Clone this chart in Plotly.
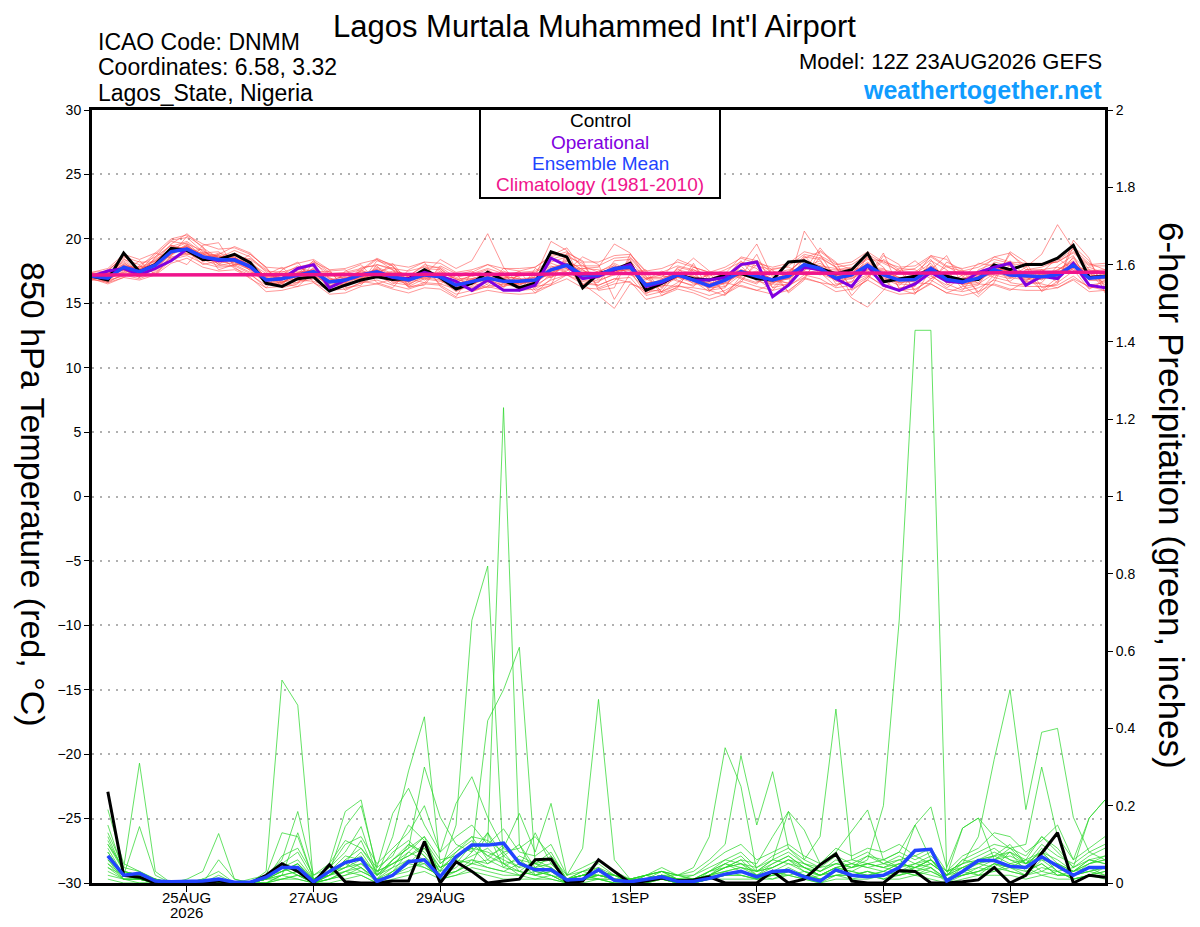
import plotly.graph_objects as go
import pandas as pd

# GEFS 12Z 23AUG2026 run, 6-hourly
times = pd.date_range("2026-08-23 12:00", periods=65, freq="6h")
precip_times = times[1:]
clim_times = times[::4]

tick_dates = ["2026-08-25", "2026-08-27", "2026-08-29", "2026-09-01",
              "2026-09-03", "2026-09-05", "2026-09-07"]
tick_text = ["25AUG", "27AUG", "29AUG", "1SEP", "3SEP", "5SEP", "7SEP"]
year_text = "2026"

# 850 hPa temperature (C)
control_temp = [17.1, 16.8, 18.9, 17.45, 18.0, 19.26, 19.1, 18.4, 18.4, 18.8, 18.15, 16.55, 16.3,
                16.9, 17.05, 15.95, 16.4, 16.8, 17.05, 16.85, 16.9, 17.6, 17.0, 16.1, 16.55, 17.4,
                16.8, 16.2, 16.55, 19.0, 18.6, 16.2, 17.3, 17.6, 18.1, 16.0, 16.55, 17.2, 16.9,
                16.8, 17.2, 17.3, 16.9, 16.8, 18.2, 18.3, 17.7, 17.27, 17.6, 18.87, 16.67, 16.9,
                17.1, 17.64, 17.1, 16.8, 16.85, 17.97, 17.6, 18.0, 18.0, 18.5, 19.5, 17.0, 17.1]
operational_temp = [17.1, 17.5, 17.7, 17.2, 17.7, 18.3, 19.2, 18.6, 18.3, 18.4, 17.8, 16.8, 16.9,
                    17.7, 18.0, 16.2, 16.8, 17.2, 17.4, 17.0, 16.9, 17.4, 17.1, 16.7, 16.0, 16.8,
                    16.0, 16.0, 16.4, 18.5, 17.9, 16.9, 17.1, 17.6, 18.0, 16.3, 16.6, 17.2, 16.8,
                    16.8, 17.0, 18.0, 18.2, 15.5, 16.4, 17.8, 17.6, 16.9, 16.3, 17.9, 16.4, 16.0,
                    16.5, 17.4, 16.7, 16.6, 17.4, 17.8, 18.1, 16.4, 17.1, 16.9, 18.1, 16.4, 16.2]
mean_temp = [17.1, 16.95, 17.8, 17.45, 17.95, 19.0, 19.2, 18.6, 18.4, 18.35, 17.85, 16.8, 16.9,
             17.2, 17.45, 16.65, 16.8, 17.2, 17.45, 17.05, 16.8, 17.2, 17.05, 16.4, 16.65, 16.95,
             16.7, 16.7, 16.8, 17.6, 17.95, 17.2, 17.2, 17.7, 17.8, 16.4, 16.7, 17.2, 16.8,
             16.35, 16.8, 17.45, 17.1, 16.8, 17.1, 18.0, 17.7, 16.95, 17.2, 17.95, 17.2, 16.8,
             16.85, 17.7, 16.85, 16.65, 16.95, 17.6, 17.2, 17.1, 17.05, 17.2, 17.95, 16.95, 17.05]
climatology_temp = [17.2, 17.2, 17.2, 17.2, 17.2, 17.2, 17.25, 17.25, 17.3,
                    17.3, 17.3, 17.3, 17.35, 17.35, 17.35, 17.4, 17.4]

t01 = [17.0, 17.3, 18.2, 17.2, 17.9, 19.4, 19.8, 18.9, 18.0, 18.9, 18.2, 17.0, 16.5, 17.6, 17.9, 16.3, 16.5, 17.8, 17.9, 16.6, 16.4, 17.7, 17.6, 16.0, 16.3, 17.4, 16.2, 17.3, 17.4, 18.2, 18.6, 16.8, 16.6, 18.3, 18.4, 15.8, 16.1, 17.8, 17.5, 16.0, 16.2, 18.1, 17.7, 16.2, 16.5, 18.6, 18.4, 16.5, 16.6, 18.7, 17.8, 16.2, 16.3, 18.3, 17.6, 16.1, 16.4, 18.2, 17.9, 16.5, 16.6, 17.9, 18.7, 16.4, 16.6]
t02 = [17.2, 16.8, 17.5, 17.8, 18.3, 18.7, 19.5, 18.2, 18.8, 18.1, 17.6, 17.1, 17.3, 16.9, 17.2, 17.1, 17.2, 16.8, 17.1, 17.5, 17.2, 16.9, 16.7, 16.8, 17.1, 16.6, 17.2, 16.3, 16.4, 17.1, 17.6, 17.7, 17.6, 17.2, 17.4, 16.9, 17.2, 16.7, 16.4, 16.9, 17.3, 17.0, 16.6, 17.3, 17.6, 17.5, 17.2, 17.5, 17.7, 17.4, 16.7, 17.3, 17.4, 17.1, 16.4, 17.2, 17.5, 17.0, 16.7, 17.6, 17.6, 16.6, 17.5, 17.5, 17.6]
t03 = [16.9, 17.1, 18.4, 18.0, 18.6, 19.9, 20.1, 19.0, 18.6, 18.7, 18.4, 17.5, 17.4, 17.8, 18.1, 17.3, 17.4, 17.7, 18.0, 17.7, 17.5, 17.8, 17.8, 17.0, 17.3, 17.7, 17.3, 17.4, 17.5, 18.4, 18.8, 17.9, 17.9, 18.5, 18.6, 17.2, 17.4, 17.9, 17.6, 17.1, 17.6, 18.2, 17.9, 17.6, 17.9, 18.8, 18.5, 17.8, 18.0, 18.8, 18.1, 17.5, 17.7, 18.6, 17.8, 17.5, 17.8, 18.4, 18.1, 17.9, 18.0, 18.2, 18.9, 17.9, 17.9]
t04 = [17.0, 16.7, 17.2, 16.9, 17.4, 18.4, 18.7, 18.1, 17.8, 17.9, 17.3, 16.2, 16.3, 16.6, 16.9, 16.0, 16.1, 16.6, 16.8, 16.4, 16.1, 16.5, 16.4, 15.7, 16.0, 16.3, 16.0, 16.0, 16.1, 16.8, 17.2, 16.5, 16.4, 16.9, 17.0, 15.6, 15.9, 16.4, 16.0, 15.6, 16.0, 16.7, 16.3, 16.0, 16.3, 17.2, 16.9, 16.2, 16.4, 17.1, 16.4, 16.0, 16.1, 16.8, 16.1, 15.9, 16.2, 16.8, 16.4, 16.3, 16.3, 16.4, 17.1, 16.2, 16.3]
t05 = [17.3, 17.2, 17.9, 17.6, 18.4, 19.1, 19.0, 18.4, 18.9, 18.6, 17.5, 16.6, 17.2, 17.9, 17.1, 16.5, 17.3, 17.6, 17.0, 17.4, 17.3, 16.8, 17.5, 16.9, 16.4, 17.3, 17.1, 16.9, 16.2, 17.3, 18.3, 17.6, 16.8, 17.2, 18.3, 16.9, 16.2, 17.6, 17.3, 16.3, 17.1, 17.9, 16.7, 16.5, 17.5, 18.4, 17.3, 16.8, 17.7, 18.5, 16.9, 16.4, 17.3, 18.1, 16.6, 16.9, 17.4, 17.2, 16.9, 17.5, 16.8, 17.6, 18.3, 16.8, 17.4]
t06 = [17.1, 16.9, 17.6, 17.3, 17.7, 18.8, 19.6, 19.1, 18.3, 18.0, 18.1, 17.3, 16.7, 16.6, 17.8, 17.0, 16.4, 16.9, 17.8, 17.3, 16.6, 17.5, 16.9, 16.2, 16.9, 16.8, 16.4, 16.6, 17.2, 17.9, 17.4, 16.9, 17.5, 17.9, 17.3, 16.1, 16.9, 17.4, 16.5, 16.6, 16.5, 17.3, 17.4, 16.9, 16.9, 17.7, 18.1, 17.3, 16.9, 17.6, 17.5, 17.0, 16.6, 17.4, 17.2, 16.4, 16.8, 17.9, 17.5, 16.8, 17.3, 17.0, 17.7, 17.3, 16.9]
t07 = [16.8, 17.4, 18.0, 17.1, 17.8, 19.3, 19.3, 18.7, 18.2, 18.5, 18.0, 16.5, 16.6, 17.4, 17.6, 16.9, 16.7, 17.3, 17.3, 16.9, 17.0, 17.4, 17.3, 16.6, 16.5, 16.9, 16.8, 16.8, 16.6, 17.5, 18.1, 17.4, 17.3, 17.5, 17.6, 16.6, 16.5, 17.1, 17.0, 16.5, 16.9, 17.6, 17.2, 16.6, 17.0, 18.0, 17.6, 17.1, 17.3, 17.9, 17.3, 16.9, 16.8, 17.9, 17.0, 16.6, 17.1, 17.7, 17.3, 16.9, 17.0, 17.4, 18.1, 17.1, 17.2]
t08 = [17.4, 17.5, 18.6, 18.2, 18.2, 19.6, 20.4, 19.3, 18.5, 19.1, 18.6, 17.4, 16.9, 17.1, 18.3, 17.4, 16.9, 17.5, 18.4, 17.6, 17.1, 18.0, 17.7, 16.6, 17.2, 17.6, 16.9, 17.5, 17.8, 18.7, 19.3, 17.7, 17.8, 19.6, 18.9, 17.0, 17.0, 18.4, 17.9, 16.8, 17.3, 18.6, 18.3, 17.3, 17.4, 18.5, 19.0, 18.1, 17.6, 18.4, 18.3, 17.4, 17.1, 18.7, 18.4, 17.2, 17.3, 18.6, 18.9, 17.6, 17.8, 18.3, 19.2, 18.1, 17.6]
t09 = [16.9, 16.6, 17.3, 17.9, 17.6, 18.5, 18.9, 18.3, 18.7, 17.7, 17.2, 16.4, 17.0, 16.8, 16.7, 16.3, 17.0, 16.7, 16.5, 16.9, 16.9, 16.6, 16.5, 16.1, 16.6, 16.2, 16.5, 16.2, 16.3, 16.5, 17.2, 16.7, 16.4, 16.9, 16.6, 15.9, 16.4, 16.3, 16.2, 16.0, 16.6, 16.3, 16.0, 16.5, 16.4, 17.0, 16.6, 16.4, 16.7, 17.2, 16.3, 16.1, 16.6, 16.5, 15.8, 16.3, 16.5, 16.4, 16.0, 16.7, 16.5, 16.2, 16.9, 16.3, 16.0]
t10 = [17.2, 17.0, 17.7, 17.4, 18.1, 18.9, 19.4, 18.5, 18.1, 18.3, 18.3, 17.0, 16.8, 17.3, 17.3, 16.6, 16.6, 17.1, 17.6, 17.0, 16.7, 17.1, 17.2, 16.5, 16.8, 17.1, 16.6, 16.4, 16.9, 17.7, 17.9, 17.3, 17.1, 17.6, 18.0, 16.5, 16.8, 17.2, 16.9, 16.4, 16.7, 17.4, 17.2, 16.9, 17.2, 17.9, 17.8, 16.9, 17.1, 18.1, 17.1, 16.7, 17.0, 17.8, 16.9, 16.8, 16.9, 17.5, 17.3, 17.2, 17.1, 17.3, 17.9, 17.0, 17.2]
t11 = [17.0, 17.6, 18.5, 17.3, 18.5, 19.5, 19.1, 18.0, 18.3, 18.8, 17.8, 16.7, 16.4, 17.7, 17.5, 16.1, 16.9, 17.5, 17.2, 16.5, 17.1, 17.9, 16.8, 15.9, 16.6, 17.5, 16.9, 16.5, 16.9, 18.1, 17.7, 16.4, 17.4, 18.1, 17.5, 15.7, 16.6, 17.7, 16.7, 15.9, 17.0, 18.3, 16.9, 16.0, 17.3, 18.7, 17.4, 16.3, 17.3, 18.6, 16.8, 15.9, 17.4, 18.4, 16.5, 16.0, 17.6, 18.1, 16.6, 16.4, 17.4, 18.5, 17.6, 16.1, 16.8]
t12 = [17.1, 16.9, 17.4, 17.6, 17.5, 18.6, 18.8, 18.8, 18.6, 18.2, 17.7, 17.2, 17.5, 17.0, 17.4, 17.2, 16.9, 16.9, 17.4, 17.8, 17.0, 17.0, 17.4, 16.9, 16.9, 16.8, 16.9, 17.1, 17.3, 17.3, 18.0, 17.9, 17.4, 17.4, 17.7, 17.4, 17.1, 17.0, 16.8, 17.2, 17.4, 17.1, 17.4, 17.5, 17.2, 17.6, 17.9, 17.7, 17.4, 17.6, 17.6, 17.3, 17.2, 17.3, 17.5, 17.3, 17.2, 17.4, 17.6, 17.4, 17.6, 17.1, 17.8, 17.6, 17.4]
t13 = [16.8, 16.7, 17.9, 17.7, 18.0, 19.2, 19.7, 18.6, 18.2, 18.6, 17.9, 16.5, 16.6, 17.1, 17.7, 16.4, 16.3, 17.0, 17.7, 17.2, 16.3, 16.9, 17.3, 16.3, 16.2, 16.9, 16.3, 16.6, 16.7, 17.4, 18.4, 17.1, 16.7, 17.3, 18.2, 16.3, 16.3, 17.0, 17.1, 16.2, 16.3, 17.2, 17.5, 16.7, 16.6, 17.8, 18.3, 16.7, 16.9, 17.8, 17.7, 16.5, 16.4, 17.5, 17.3, 16.5, 16.6, 17.8, 17.4, 16.6, 16.9, 17.5, 18.5, 16.8, 16.7]
t14 = [17.3, 17.1, 18.1, 17.5, 18.3, 19.3, 19.1, 18.9, 18.7, 18.3, 17.9, 17.1, 17.0, 17.5, 17.4, 16.8, 17.1, 17.4, 17.3, 17.2, 17.0, 17.3, 17.0, 16.7, 16.9, 17.2, 17.0, 16.9, 17.0, 17.8, 18.1, 17.5, 17.3, 17.8, 17.9, 16.9, 16.9, 17.4, 17.1, 16.7, 17.0, 17.6, 17.3, 16.9, 17.3, 18.1, 17.9, 17.2, 17.4, 18.2, 17.4, 17.0, 17.1, 17.9, 17.1, 16.9, 17.2, 17.7, 17.5, 17.2, 17.2, 17.6, 18.2, 17.3, 17.3]
t15 = [17.0, 17.2, 17.6, 17.0, 17.7, 18.9, 19.3, 18.4, 17.9, 18.2, 17.6, 16.6, 16.7, 16.9, 17.2, 16.5, 16.5, 17.1, 17.3, 16.8, 16.5, 17.0, 16.8, 16.2, 16.5, 16.9, 16.6, 16.6, 16.6, 17.4, 17.7, 17.0, 17.0, 17.5, 17.6, 16.2, 16.5, 17.0, 16.6, 16.2, 16.6, 17.3, 16.9, 16.6, 16.9, 17.8, 17.5, 16.8, 17.0, 17.8, 17.0, 16.6, 16.7, 17.5, 16.7, 16.5, 16.8, 17.4, 17.0, 16.8, 16.9, 17.1, 17.7, 16.8, 16.9]
t16 = [17.2, 17.3, 17.8, 17.7, 18.1, 19.2, 19.4, 18.8, 18.5, 18.5, 17.9, 16.9, 17.0, 17.3, 17.6, 16.7, 16.9, 17.3, 17.6, 17.1, 16.9, 17.3, 17.1, 16.5, 16.8, 17.1, 16.8, 16.8, 16.9, 17.7, 18.1, 17.3, 17.3, 17.8, 17.8, 16.5, 16.8, 17.3, 16.9, 16.5, 16.9, 17.5, 17.2, 16.9, 17.2, 18.1, 17.8, 17.1, 17.3, 18.1, 17.3, 16.9, 17.0, 17.8, 17.0, 16.8, 17.1, 17.7, 17.3, 17.2, 17.2, 17.3, 18.1, 17.1, 17.2]
t17 = [17.1, 16.8, 17.1, 17.9, 17.3, 18.3, 19.0, 19.2, 18.0, 17.9, 18.5, 17.6, 16.5, 16.3, 17.4, 17.5, 16.2, 16.4, 18.0, 17.6, 16.2, 16.6, 17.7, 16.8, 15.9, 16.3, 17.5, 17.0, 15.8, 16.9, 18.6, 18.1, 16.2, 16.7, 18.5, 17.1, 15.9, 16.6, 17.6, 17.0, 15.8, 16.8, 18.0, 17.2, 15.9, 17.0, 18.6, 17.8, 16.2, 17.0, 18.4, 17.6, 16.0, 16.9, 17.9, 17.1, 15.9, 17.2, 18.3, 17.1, 16.0, 17.0, 18.6, 17.4, 16.1]
t18 = [17.0, 17.2, 18.3, 17.4, 17.6, 18.8, 19.5, 18.6, 18.4, 18.6, 17.7, 16.9, 17.2, 17.0, 17.1, 16.6, 17.0, 17.0, 17.2, 16.7, 16.7, 17.3, 16.9, 16.3, 16.8, 17.0, 16.5, 16.8, 17.0, 17.5, 17.8, 17.3, 17.0, 17.6, 17.7, 16.6, 16.6, 17.1, 16.9, 16.3, 16.7, 17.3, 17.1, 16.7, 16.9, 17.9, 17.5, 16.9, 17.1, 17.9, 17.3, 16.6, 16.8, 17.6, 16.9, 16.6, 16.9, 17.5, 17.2, 17.0, 17.0, 17.2, 17.9, 16.9, 17.0]
t19 = [16.9, 17.4, 17.7, 17.2, 18.2, 19.0, 19.3, 18.5, 18.3, 18.4, 18.0, 16.7, 16.8, 17.4, 17.3, 16.8, 16.7, 17.2, 17.6, 17.0, 16.8, 17.1, 17.2, 16.4, 16.6, 17.1, 16.7, 16.5, 16.8, 17.6, 18.0, 17.1, 17.2, 17.7, 17.8, 16.3, 16.7, 17.2, 16.7, 16.4, 16.8, 17.5, 17.0, 16.8, 17.1, 18.0, 17.7, 17.0, 17.1, 18.0, 17.1, 16.8, 16.9, 17.7, 16.8, 16.6, 17.0, 17.6, 17.2, 17.0, 17.2, 17.1, 18.0, 17.0, 17.1]
t20 = [17.2, 17.1, 18.0, 17.6, 17.9, 19.1, 19.1, 18.7, 18.4, 18.3, 17.8, 16.8, 16.9, 17.2, 17.5, 16.6, 16.8, 17.3, 17.4, 17.2, 16.8, 17.2, 17.0, 16.5, 16.7, 17.0, 16.7, 16.7, 16.8, 17.6, 17.9, 17.2, 17.2, 17.7, 17.8, 16.5, 16.7, 17.2, 16.8, 16.4, 16.8, 17.5, 17.1, 16.8, 17.1, 18.0, 17.7, 17.0, 17.2, 18.0, 17.2, 16.8, 16.9, 17.7, 16.9, 16.7, 17.0, 17.6, 17.2, 17.1, 17.1, 17.2, 18.0, 17.0, 17.1]
t21 = [17.0, 17.5, 18.7, 17.5, 18.8, 19.8, 19.6, 18.3, 18.8, 19.4, 18.9, 17.7, 16.6, 17.3, 18.3, 16.9, 16.6, 17.6, 18.5, 17.9, 16.4, 17.2, 18.4, 17.7, 18.3, 20.4, 17.8, 16.4, 17.1, 19.8, 19.1, 16.5, 15.6, 14.6, 16.5, 16.1, 15.9, 17.4, 18.5, 17.5, 16.3, 17.9, 19.6, 17.0, 16.5, 20.6, 18.8, 16.9, 15.4, 14.7, 16.0, 17.5, 18.3, 17.2, 16.2, 17.0, 18.1, 17.9, 17.0, 17.8, 18.8, 21.1, 19.2, 17.6, 16.4]
t22 = [17.1, 16.6, 17.0, 17.8, 18.9, 18.5, 18.0, 19.5, 19.7, 17.8, 16.9, 16.2, 17.6, 18.2, 16.6, 16.0, 17.5, 18.0, 16.6, 16.2, 17.6, 18.2, 16.3, 15.5, 17.4, 18.0, 17.4, 15.9, 17.7, 17.0, 17.5, 18.6, 18.0, 15.3, 17.3, 17.6, 15.8, 16.2, 18.1, 16.0, 15.6, 17.1, 18.8, 16.2, 17.4, 17.5, 19.3, 17.8, 15.6, 17.0, 18.9, 16.1, 15.7, 17.6, 18.7, 16.4, 15.5, 16.6, 19.0, 18.2, 16.2, 16.5, 19.9, 18.5, 15.8]
t23 = [17.3, 17.0, 17.4, 18.3, 17.2, 18.7, 20.2, 19.4, 17.6, 18.0, 18.8, 17.8, 16.2, 16.5, 18.2, 17.6, 16.0, 16.6, 18.3, 17.9, 16.3, 16.4, 17.9, 17.3, 15.9, 16.5, 17.7, 17.5, 16.0, 16.4, 18.9, 18.3, 16.0, 16.2, 18.8, 17.4, 15.6, 16.3, 17.8, 17.4, 15.7, 16.6, 18.3, 17.6, 15.8, 16.8, 19.1, 18.2, 16.0, 16.8, 18.7, 18.0, 15.8, 16.6, 18.2, 17.6, 15.7, 16.9, 18.8, 17.9, 15.9, 16.7, 19.4, 18.3, 16.2]
t24 = [16.9, 16.5, 17.0, 16.8, 17.2, 18.1, 18.5, 17.8, 17.5, 17.6, 17.0, 15.9, 16.0, 16.3, 16.6, 15.7, 15.8, 16.3, 16.5, 16.1, 15.8, 16.2, 16.1, 15.4, 15.7, 16.0, 15.8, 15.7, 15.8, 16.4, 16.9, 16.2, 16.1, 16.5, 16.7, 15.3, 15.6, 16.1, 15.8, 15.3, 15.7, 16.4, 16.0, 15.7, 16.0, 16.9, 16.6, 15.9, 16.1, 16.8, 16.1, 15.7, 15.8, 16.5, 15.8, 15.6, 15.9, 16.5, 16.1, 16.0, 16.0, 16.2, 16.8, 15.9, 16.0]
t25 = [17.4, 17.7, 18.8, 18.4, 18.9, 20.0, 20.3, 19.6, 19.2, 19.3, 18.8, 17.8, 17.7, 18.1, 18.4, 17.6, 17.7, 18.1, 18.4, 18.0, 17.8, 18.2, 18.1, 17.4, 17.6, 18.0, 17.7, 17.7, 17.8, 18.6, 19.0, 18.2, 18.2, 18.7, 18.8, 17.5, 17.7, 18.2, 17.8, 17.4, 17.8, 18.5, 18.1, 17.8, 18.1, 19.0, 18.7, 18.0, 18.2, 19.0, 18.2, 17.8, 17.9, 18.7, 17.9, 17.7, 18.0, 18.6, 18.2, 18.1, 18.1, 18.2, 19.0, 18.0, 18.1]
t26 = [17.0, 17.3, 17.6, 17.0, 18.6, 19.5, 18.8, 18.9, 19.0, 18.0, 17.4, 17.2, 17.8, 16.7, 17.0, 17.5, 17.6, 16.5, 17.2, 18.1, 16.6, 17.6, 16.5, 17.2, 17.5, 16.4, 16.3, 17.3, 17.2, 17.0, 18.3, 17.6, 16.9, 18.0, 17.2, 16.8, 17.5, 16.8, 16.3, 17.4, 17.4, 16.9, 16.5, 17.7, 17.8, 17.3, 17.6, 17.6, 17.8, 17.5, 16.8, 17.7, 17.6, 16.9, 17.4, 17.5, 16.5, 17.3, 17.9, 16.7, 17.6, 17.8, 17.4, 17.8, 17.3]
members_temp = [t01, t02, t03, t04, t05, t06, t07, t08, t09, t10, t11, t12, t13,
                t14, t15, t16, t17, t18, t19, t20, t21, t22, t23, t24, t25, t26]

# 6-hour precipitation (inches), 18Z 23AUG onward
control_precip = [0.236, 0.02, 0.015, 0, 0, 0, 0, 0.005, 0, 0, 0.02, 0.05, 0.03, 0, 0.047, 0.003,
                  0, 0, 0.005, 0.005, 0.107, 0, 0.055, 0.03, 0, 0.005, 0.01, 0.06, 0.062, 0, 0.005, 0.06,
                  0.03, 0, 0.005, 0.013, 0.006, 0.008, 0.016, 0, 0, 0, 0.03, 0, 0.01, 0.047, 0.075, 0.005,
                  0, 0, 0.032, 0.03, 0, 0, 0.003, 0.008, 0.04, 0, 0.02, 0.077, 0.13, 0, 0.02, 0.015]
mean_precip = [0.07, 0.02, 0.025, 0.005, 0.003, 0.003, 0.005, 0.01, 0.002, 0.002, 0.015, 0.04, 0.04, 0.003, 0.03, 0.053,
               0.063, 0.004, 0.02, 0.055, 0.06, 0.016, 0.068, 0.098, 0.098, 0.103, 0.051, 0.034, 0.034, 0.008, 0.01, 0.034,
               0.007, 0.003, 0.01, 0.016, 0.004, 0.004, 0.012, 0.023, 0.03, 0.016, 0.03, 0.032, 0.016, 0.005, 0.034, 0.02,
               0.016, 0.02, 0.04, 0.084, 0.087, 0.005, 0.03, 0.058, 0.058, 0.043, 0.04, 0.068, 0.044, 0.02, 0.04, 0.04]

p01 = [0.08, 0.02, 0.01, 0, 0, 0, 0, 0.01, 0, 0, 0.01, 0.03, 0.05, 0, 0.02, 0.06,
       0.04, 0, 0.03, 0.08, 0.12, 0.02, 0.05, 0.1, 0.1, 1.23, 0.1, 0.02, 0.03, 0, 0.01, 0.02,
       0.01, 0, 0.01, 0.02, 0, 0, 0.01, 0.03, 0.02, 0.01, 0.03, 0.02, 0.01, 0, 0.02, 0.01,
       0.01, 0.02, 0.03, 0.05, 0.04, 0, 0.02, 0.03, 0.05, 0.03, 0.02, 0.06, 0.03, 0.01, 0.02, 0.03]
p02 = [0.12, 0.03, 0.02, 0.01, 0, 0, 0, 0, 0, 0, 0, 0.02, 0.13, 0.01, 0.03, 0.04,
       0.06, 0, 0.02, 0.05, 0.09, 0.03, 0.15, 0.68, 0.82, 0.05, 0.02, 0.04, 0.02, 0, 0.01, 0.03,
       0.02, 0.01, 0, 0.01, 0, 0.01, 0.02, 0.05, 0.03, 0.01, 0.02, 0.04, 0.02, 0.01, 0.03, 0.02,
       0.03, 0.01, 0.02, 0.04, 0.06, 0.01, 0.03, 0.05, 0.04, 0.08, 0.03, 0.05, 0.02, 0.03, 0.04, 0.02]
p03 = [0.05, 0.01, 0.01, 0, 0, 0, 0, 0.01, 0, 0, 0.01, 0.04, 0.02, 0, 0.01, 0.03,
       0.05, 0.01, 0.06, 0.1, 0.07, 0.02, 0.04, 0.08, 0.42, 0.5, 0.61, 0.05, 0.08, 0.01, 0.02, 0.04,
       0.01, 0, 0.02, 0.03, 0.01, 0, 0.02, 0.04, 0.05, 0.02, 0.04, 0.06, 0.03, 0.02, 0.04, 0.03,
       0.02, 0.03, 0.05, 0.04, 0.03, 0.01, 0.04, 0.06, 0.07, 0.1, 0.05, 0.08, 0.04, 0.02, 0.05, 0.06]
p04 = [0.06, 0.02, 0.02, 0.01, 0, 0, 0, 0, 0, 0, 0.02, 0.05, 0.03, 0, 0.02, 0.05,
       0.03, 0.01, 0.04, 0.06, 0.05, 0.01, 0.03, 0.06, 0.05, 0.08, 0.03, 0.02, 0.04, 0, 0.01, 0.02,
       0.01, 0.01, 0.02, 0.01, 0, 0.01, 0.03, 0.04, 0.06, 0.02, 0.05, 0.07, 0.04, 0.03, 0.05, 0.04,
       0.06, 0.2, 0.68, 1.43, 1.43, 0.03, 0.04, 0.02, 0.05, 0.04, 0.06, 0.03, 0.05, 0.02, 0.03, 0.04]
p05 = [0.1, 0.04, 0.31, 0.03, 0, 0, 0, 0.01, 0, 0, 0.03, 0.525, 0.46, 0, 0.02, 0.04,
       0.08, 0.02, 0.05, 0.07, 0.1, 0.04, 0.06, 0.05, 0.13, 0.07, 0.04, 0.05, 0.03, 0.01, 0.02, 0.01,
       0, 0, 0.01, 0.02, 0.01, 0, 0.01, 0.02, 0.03, 0.02, 0.01, 0.03, 0.02, 0.01, 0.02, 0.03,
       0.02, 0.01, 0.03, 0.02, 0.04, 0.01, 0.02, 0.04, 0.03, 0.05, 0.04, 0.02, 0.03, 0.01, 0.02, 0.04]
p06 = [0.04, 0.02, 0.01, 0, 0, 0, 0.01, 0, 0, 0, 0.01, 0.03, 0.04, 0.01, 0.03, 0.05,
       0.07, 0.02, 0.12, 0.29, 0.43, 0.05, 0.08, 0.12, 0.06, 0.1, 0.05, 0.04, 0.07, 0.02, 0.09, 0.475,
       0.06, 0.01, 0.02, 0.01, 0, 0.01, 0.02, 0.03, 0.04, 0.03, 0.06, 0.05, 0.03, 0.02, 0.04, 0.05,
       0.04, 0.03, 0.05, 0.04, 0.06, 0.02, 0.03, 0.04, 0.06, 0.09, 0.05, 0.07, 0.03, 0.04, 0.06, 0.05]
p07 = [0.03, 0.01, 0.01, 0, 0, 0, 0, 0, 0, 0, 0.01, 0.02, 0.03, 0, 0.05, 0.185,
       0.215, 0.03, 0.05, 0.08, 0.06, 0.04, 0.07, 0.09, 0.08, 0.06, 0.04, 0.13, 0.05, 0.01, 0.02, 0.03,
       0.02, 0.01, 0.01, 0.02, 0.02, 0.04, 0.12, 0.35, 0.25, 0.03, 0.06, 0.08, 0.05, 0.03, 0.06, 0.04,
       0.05, 0.06, 0.04, 0.05, 0.07, 0.03, 0.05, 0.06, 0.08, 0.06, 0.04, 0.09, 0.05, 0.03, 0.05, 0.07]
p08 = [0.15, 0.03, 0.02, 0.01, 0, 0, 0, 0.01, 0, 0, 0.02, 0.04, 0.02, 0.01, 0.02, 0.04,
       0.05, 0.02, 0.04, 0.1, 0.08, 0.03, 0.05, 0.07, 0.09, 0.05, 0.06, 0.03, 0.02, 0.01, 0.03, 0.02,
       0.01, 0, 0.02, 0.03, 0.02, 0.03, 0.06, 0.1, 0.33, 0.15, 0.288, 0.09, 0.06, 0.12, 0.45, 0.06,
       0.05, 0.04, 0.06, 0.03, 0.05, 0.02, 0.06, 0.05, 0.07, 0.05, 0.06, 0.08, 0.04, 0.03, 0.06, 0.05]
p09 = [0.07, 0.02, 0.01, 0, 0, 0, 0, 0, 0, 0, 0.01, 0.02, 0.03, 0, 0.01, 0.03,
       0.04, 0.01, 0.03, 0.05, 0.04, 0.02, 0.03, 0.05, 0.06, 0.04, 0.03, 0.02, 0.03, 0.01, 0.02, 0.01,
       0.01, 0, 0.01, 0.02, 0.01, 0.01, 0.02, 0.03, 0.04, 0.02, 0.03, 0.05, 0.04, 0.02, 0.04, 0.03,
       0.05, 0.04, 0.03, 0.04, 0.06, 0.02, 0.05, 0.12, 0.32, 0.5, 0.19, 0.39, 0.4, 0.17, 0.08, 0.06]
p10 = [0.09, 0.02, 0.146, 0.02, 0, 0.01, 0.03, 0.128, 0.01, 0, 0.02, 0.13, 0.12, 0.01, 0.03, 0.146,
       0.2, 0.04, 0.18, 0.245, 0.15, 0.08, 0.206, 0.275, 0.17, 0.09, 0.18, 0.08, 0.206, 0.02, 0.03, 0.05,
       0.02, 0.01, 0.02, 0.03, 0.01, 0.02, 0.04, 0.06, 0.05, 0.04, 0.06, 0.185, 0.137, 0.05, 0.08, 0.133,
       0.189, 0.06, 0.08, 0.15, 0.197, 0.04, 0.142, 0.168, 0.12, 0.09, 0.1, 0.3, 0.12, 0.06, 0.168, 0.215]
p11 = [0.19, 0.05, 0.03, 0.01, 0, 0, 0, 0, 0, 0.01, 0.02, 0.06, 0.185, 0.02, 0.04, 0.08,
       0.146, 0.02, 0.06, 0.09, 0.3, 0.17, 0.1, 0.08, 0.13, 0.04, 0.07, 0.05, 0.04, 0.01, 0.02, 0.03,
       0.01, 0.01, 0.01, 0.02, 0.01, 0, 0.03, 0.05, 0.07, 0.03, 0.04, 0.06, 0.05, 0.03, 0.05, 0.04,
       0.07, 0.05, 0.04, 0.15, 0.06, 0.03, 0.05, 0.07, 0.09, 0.06, 0.05, 0.1, 0.07, 0.05, 0.08, 0.1]
p12 = [0.05, 0.02, 0.02, 0.01, 0, 0, 0, 0.06, 0.01, 0, 0.01, 0.03, 0.05, 0.01, 0.02, 0.06,
       0.09, 0.03, 0.05, 0.07, 0.09, 0.04, 0.06, 0.1, 0.07, 0.05, 0.03, 0.06, 0.04, 0.01, 0.02, 0.02,
       0.01, 0, 0.01, 0.02, 0.01, 0.01, 0.02, 0.04, 0.06, 0.05, 0.12, 0.185, 0.06, 0.04, 0.05, 0.06,
       0.08, 0.05, 0.06, 0.07, 0.05, 0.02, 0.142, 0.168, 0.06, 0.08, 0.06, 0.12, 0.09, 0.04, 0.168, 0.215]
p13 = [0.02, 0.01, 0, 0, 0, 0, 0, 0, 0, 0, 0, 0.01, 0.02, 0, 0.01, 0.02,
       0.03, 0.01, 0.02, 0.04, 0.05, 0.01, 0.02, 0.04, 0.03, 0.02, 0.02, 0.01, 0.02, 0, 0.01, 0.01,
       0, 0, 0.01, 0.01, 0, 0, 0.01, 0.02, 0.02, 0.01, 0.02, 0.03, 0.02, 0.01, 0.02, 0.02,
       0.03, 0.02, 0.02, 0.03, 0.02, 0.01, 0.02, 0.03, 0.04, 0.03, 0.02, 0.04, 0.03, 0.01, 0.02, 0.03]
p14 = [0.11, 0.03, 0.02, 0, 0, 0, 0, 0.02, 0, 0, 0.02, 0.05, 0.08, 0.01, 0.04, 0.1,
       0.12, 0.05, 0.09, 0.13, 0.2, 0.08, 0.12, 0.15, 0.1, 0.14, 0.08, 0.07, 0.1, 0.02, 0.04, 0.06,
       0.03, 0.01, 0.02, 0.03, 0.02, 0.02, 0.05, 0.08, 0.1, 0.06, 0.08, 0.1, 0.07, 0.05, 0.09, 0.07,
       0.09, 0.08, 0.1, 0.07, 0.09, 0.03, 0.07, 0.09, 0.13, 0.12, 0.08, 0.11, 0.15, 0.06, 0.09, 0.12]
p15 = [0.06, 0.01, 0.01, 0, 0, 0, 0.01, 0, 0, 0, 0, 0.02, 0.01, 0, 0.02, 0.03,
       0.02, 0, 0.03, 0.06, 0.04, 0.02, 0.05, 0.06, 0.04, 0.03, 0.05, 0.02, 0.01, 0, 0.01, 0.02,
       0.02, 0, 0.01, 0.01, 0.01, 0, 0.02, 0.02, 0.03, 0.02, 0.02, 0.03, 0.01, 0.02, 0.03, 0.02,
       0.02, 0.03, 0.02, 0.03, 0.04, 0.01, 0.02, 0.03, 0.05, 0.04, 0.03, 0.05, 0.02, 0.02, 0.03, 0.04]
p16 = [0.13, 0.04, 0.03, 0.01, 0, 0, 0, 0, 0, 0, 0.01, 0.07, 0.09, 0.02, 0.05, 0.11,
       0.09, 0.04, 0.07, 0.15, 0.11, 0.05, 0.09, 0.12, 0.11, 0.08, 0.09, 0.12, 0.07, 0.01, 0.03, 0.04,
       0.02, 0.01, 0.02, 0.04, 0.02, 0.01, 0.03, 0.06, 0.08, 0.04, 0.07, 0.09, 0.05, 0.04, 0.07, 0.05,
       0.07, 0.06, 0.08, 0.06, 0.08, 0.02, 0.06, 0.08, 0.1, 0.09, 0.07, 0.12, 0.08, 0.04, 0.07, 0.09]
p17 = [0.04, 0.01, 0.01, 0, 0, 0, 0, 0, 0, 0, 0.01, 0.01, 0.02, 0, 0.01, 0.02,
       0.04, 0.01, 0.02, 0.03, 0.06, 0.02, 0.03, 0.05, 0.04, 0.03, 0.02, 0.03, 0.02, 0, 0.01, 0.01,
       0.01, 0, 0, 0.01, 0.01, 0, 0.01, 0.02, 0.02, 0.01, 0.02, 0.02, 0.03, 0.01, 0.02, 0.02,
       0.03, 0.02, 0.03, 0.02, 0.03, 0.01, 0.03, 0.02, 0.03, 0.04, 0.02, 0.03, 0.02, 0.02, 0.03, 0.02]
p18 = [0.08, 0.02, 0.02, 0, 0, 0, 0, 0.01, 0, 0, 0.02, 0.04, 0.06, 0.01, 0.03, 0.07,
       0.06, 0.03, 0.08, 0.11, 0.07, 0.03, 0.08, 0.11, 0.07, 0.09, 0.06, 0.05, 0.06, 0.01, 0.02, 0.03,
       0.02, 0, 0.01, 0.02, 0.01, 0.01, 0.02, 0.04, 0.05, 0.03, 0.05, 0.07, 0.04, 0.02, 0.04, 0.05,
       0.04, 0.05, 0.07, 0.05, 0.06, 0.02, 0.04, 0.06, 0.07, 0.08, 0.05, 0.06, 0.05, 0.03, 0.06, 0.07]
p19 = [0.01, 0, 0, 0, 0, 0, 0, 0, 0, 0, 0, 0.01, 0.01, 0, 0, 0.01,
       0.02, 0, 0.01, 0.02, 0.03, 0.01, 0.02, 0.03, 0.02, 0.01, 0.01, 0.01, 0.01, 0, 0, 0.01,
       0, 0, 0, 0.01, 0, 0, 0.01, 0.01, 0.01, 0.01, 0.01, 0.02, 0.01, 0, 0.01, 0.01,
       0.02, 0.01, 0.01, 0.02, 0.01, 0, 0.01, 0.02, 0.02, 0.02, 0.01, 0.02, 0.01, 0.01, 0.02, 0.01]
p20 = [0.1, 0.03, 0.02, 0.01, 0, 0, 0.01, 0.03, 0, 0, 0.02, 0.03, 0.05, 0.01, 0.02, 0.05,
       0.11, 0.02, 0.06, 0.09, 0.12, 0.06, 0.07, 0.09, 0.05, 0.07, 0.1, 0.04, 0.05, 0.01, 0.02, 0.02,
       0.01, 0.01, 0.01, 0.03, 0.02, 0.01, 0.03, 0.05, 0.04, 0.03, 0.04, 0.06, 0.04, 0.02, 0.03, 0.04,
       0.05, 0.04, 0.05, 0.04, 0.05, 0.02, 0.04, 0.05, 0.06, 0.07, 0.05, 0.08, 0.06, 0.03, 0.05, 0.06]
members_precip = [p01, p02, p03, p04, p05, p06, p07, p08, p09, p10,
                  p11, p12, p13, p14, p15, p16, p17, p18, p19, p20]

# page offset of the html body, plot box in page pixels
OFF = 8
W, H = 1200 - OFF, 927 - OFF
PL, PR, PT, PB = 92, 1105, 110, 883


def px(x):
    return (x - PL) / (PR - PL)


def py(y):
    return (PB - y) / (PB - PT)


FONT = "Liberation Sans"
fig = go.Figure()

for m in members_precip:
    fig.add_trace(go.Scatter(x=precip_times, y=m, mode="lines", yaxis="y2",
                             line=dict(color="rgba(40,215,40,0.9)", width=0.8), hoverinfo="skip"))
for m in members_temp:
    fig.add_trace(go.Scatter(x=times, y=m, mode="lines",
                             line=dict(color="rgba(255,70,70,0.7)", width=0.8), hoverinfo="skip"))

fig.add_trace(go.Scatter(x=precip_times, y=control_precip, mode="lines", yaxis="y2",
                         line=dict(color="black", width=3)))
fig.add_trace(go.Scatter(x=precip_times, y=mean_precip, mode="lines", yaxis="y2",
                         line=dict(color="#2244ff", width=3.5)))
fig.add_trace(go.Scatter(x=times, y=control_temp, mode="lines", line=dict(color="black", width=3)))
fig.add_trace(go.Scatter(x=times, y=operational_temp, mode="lines", line=dict(color="#8000e0", width=3)))
fig.add_trace(go.Scatter(x=times, y=mean_temp, mode="lines", line=dict(color="#2244ff", width=3.5)))
fig.add_trace(go.Scatter(x=clim_times, y=climatology_temp, mode="lines", line=dict(color="#f0148c", width=3.5)))

fig.update_layout(
    width=W, height=H,
    margin=dict(l=PL - OFF, r=1200 - PR, t=PT - OFF, b=927 - PB, autoexpand=False),
    paper_bgcolor="white", plot_bgcolor="white",
    showlegend=False,
    font=dict(family=FONT, color="black"),
    xaxis=dict(range=[times[0], times[-1]], tickvals=pd.to_datetime(tick_dates), showticklabels=False,
               showgrid=False, showline=True, linecolor="black", linewidth=3, mirror=True,
               ticks="outside", ticklen=6, tickcolor="black", zeroline=False, automargin=False),
    yaxis=dict(range=[-30, 30], dtick=5, showgrid=True, gridcolor="#b0b0b0", griddash="2px,6px",
               gridwidth=1.5, showline=True, linecolor="black", linewidth=3, ticks="outside",
               ticklen=5, tickcolor="black", tickfont=dict(size=14), zeroline=False, automargin=False),
    yaxis2=dict(range=[0, 2], dtick=0.2, overlaying="y", side="right", showgrid=False,
                showline=True, linecolor="black", linewidth=3, ticks="outside", ticklen=5,
                tickcolor="black", tickfont=dict(size=14), zeroline=False, automargin=False),
)

# date labels under the axis
for d, txt in zip(tick_dates, tick_text):
    fig.add_annotation(text=txt, x=pd.Timestamp(d), y=py(897), xref="x", yref="paper", showarrow=False,
                       xanchor="center", yanchor="middle", font=dict(size=15))
fig.add_annotation(text=year_text, x=pd.Timestamp(tick_dates[0]), y=py(912), xref="x", yref="paper",
                   showarrow=False, xanchor="center", yanchor="middle", font=dict(size=15))

# legend box
fig.add_shape(type="rect", xref="paper", yref="paper", x0=px(480), x1=px(720), y0=py(198), y1=py(109),
              line=dict(color="black", width=2), fillcolor="white", layer="above")
legend_items = [("Control", "black", 121), ("Operational", "#8000e0", 142),
                ("Ensemble Mean", "#2244ff", 163), ("Climatology (1981-2010)", "#f0148c", 185)]
for txt, col, yy in legend_items:
    fig.add_annotation(text=txt, x=px(600), y=py(yy), xref="paper", yref="paper", showarrow=False,
                       xanchor="center", yanchor="middle", font=dict(size=19, color=col))

# header texts (title pinned to the top edge of the figure)
fig.add_annotation(text="Lagos Murtala Muhammed Int'l Airport", x=px(594), y=py(OFF), xref="paper",
                   yref="paper", showarrow=False, xanchor="center", yanchor="top", borderpad=0,
                   font=dict(size=31))
for txt, yy in [("ICAO Code: DNMM", 42), ("Coordinates: 6.58, 3.32", 67), ("Lagos_State, Nigeria", 93)]:
    fig.add_annotation(text=txt, x=px(96), y=py(yy), xref="paper", yref="paper", showarrow=False,
                       xanchor="left", yanchor="middle", font=dict(size=23))
fig.add_annotation(text="Model: 12Z 23AUG2026 GEFS", x=px(1104), y=py(61), xref="paper", yref="paper",
                   showarrow=False, xanchor="right", yanchor="middle", font=dict(size=22))
fig.add_annotation(text="<b>weathertogether.net</b>", x=px(1104), y=py(90), xref="paper", yref="paper",
                   showarrow=False, xanchor="right", yanchor="middle", font=dict(size=25, color="#109cff"))

# axis titles, reading top to bottom
fig.add_annotation(text="850 hPa Temperature (red, °C)", x=px(33), y=py(494), xref="paper", yref="paper",
                   showarrow=False, textangle=90, xanchor="center", yanchor="middle", font=dict(size=34))
fig.add_annotation(text="6-hour Precipitation (green, inches)", x=px(1172), y=py(495), xref="paper",
                   yref="paper", showarrow=False, textangle=90, xanchor="center", yanchor="middle",
                   font=dict(size=35))

fig.write_html("out.html")
